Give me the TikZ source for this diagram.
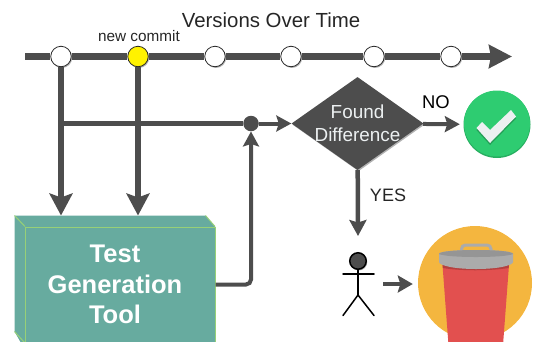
\documentclass[tikz,border=0pt]{standalone}
\usepackage{fontspec}
\setmainfont{Liberation Sans}
\usetikzlibrary{arrows.meta,shapes.geometric,shadows,calc}
\definecolor{ink}{HTML}{4D4D4D}
\definecolor{teal}{HTML}{67AB9F}
\definecolor{tealedge}{HTML}{97D077}
\definecolor{okgreen}{HTML}{2ECC71}
\definecolor{okdark}{HTML}{27AE60}
\definecolor{paleck}{HTML}{ECF0F1}
\definecolor{amber}{HTML}{F4B63F}
\definecolor{binred}{HTML}{E2504F}
\definecolor{lidgrey}{HTML}{ABABAB}
\definecolor{liddark}{HTML}{959595}
\tikzset{
  softshadow/.style={drop shadow={shadow xshift=1pt,shadow yshift=-1.2pt,fill=black,opacity=.3}},
  commit/.style={circle,draw=black!85,line width=.8pt,fill=white,minimum size=20.5pt,inner sep=0pt,softshadow},
  timeline/.style={draw=ink,line width=6.5pt},
  thick link/.style={draw=ink,line width=5.5pt,-{Stealth[length=22pt,width=23pt,inset=4pt]}},
  plain link/.style={draw=ink,line width=5pt},
  thin link/.style={draw=ink,line width=4pt,-{Stealth[length=15pt,width=16pt,inset=2.5pt]}},
  word/.style={inner sep=0pt,text=black},
  stick/.style={draw=black,line width=1.5pt,line cap=round},
}
\begin{document}
\begin{tikzpicture}[x=1pt,y=-1pt]
\useasboundingbox (0,0) rectangle (537,341);
\clip (0,0) rectangle (537,341);

% text
\node[word,text=black!85,font=\fontsize{20.4}{24}\selectfont] (title) at (271,20) {Versions Over Time};
\node[word,text=black!85,font=\fontsize{15.3}{18}\selectfont] (newc) at (139,36) {new commit};

% timeline
\coordinate (tstart) at (25,56.5);
\coordinate (tend) at (512,56.5);
\node[commit] (v1) at (61,56.5) {};
\node[commit,fill=yellow] (v2) at (138,56.5) {};
\node[commit] (v3) at (215,56.5) {};
\node[commit] (v4) at (291,56.5) {};
\node[commit] (v5) at (374,56.5) {};
\node[commit] (v6) at (451,56.5) {};
\draw[timeline] (tstart) -- (v1);
\draw[timeline] (v1) -- (v2);
\draw[timeline] (v2) -- (v3);
\draw[timeline] (v3) -- (v4);
\draw[timeline] (v4) -- (v5);
\draw[timeline] (v5) -- (v6);
\draw[draw=ink,line width=6.5pt,-{Stealth[length=23pt,width=23pt,inset=2pt]}] (v6) -- (tend);

% test generation tool
\node[draw=tealedge,line width=1pt,fill=teal,minimum width=190pt,minimum height=115pt,inner sep=0pt] (back) at (110,273.5) {};
\fill[teal] (back.north west) -- (back.north east) -- (215,226.5) -- (215,350) -- (25,350) -- (back.south west) -- cycle;
\draw[tealedge,line width=1pt] (back.north west) -- (25,226.5) (back.north east) -- (215,226.5) (back.south west) -- (25,343);
\node[draw=tealedge,line width=1pt,fill=teal,minimum width=190pt,minimum height=115pt,inner sep=0pt,
  label={[xshift=-5pt,inner sep=0pt,text=white,align=center,font=\fontsize{25.5}{30.7}\selectfont\bfseries]center:{Test\\Generation\\Tool}}] (tool) at (120,284.5) {};

% diamond, dot
\node[circle,fill=ink,minimum size=15.5pt,inner sep=0pt] (dot) at (251,123.5) {};
\node[diamond,fill=ink,minimum width=132pt,minimum height=93pt,inner sep=0pt,softshadow] (diff) at (357.5,123.5) {};
\node[inner sep=0pt,text=paleck,align=center,font=\fontsize{18.9}{23}\selectfont] (difft) at (diff.center) {Found\\Difference};

% check badge
\node[circle,fill=okdark,minimum size=67pt,inner sep=0pt] (ok) at (497,124.5) {};
\fill[okgreen] (497,123.5) circle (33);
\fill[okdark!90!black] (476.5,130) -- (482,124) -- (490,132) -- (511,112) -- (516,118.5) -- (490,145) -- cycle;
\fill[paleck] (476.5,128) -- (482,122) -- (490,130) -- (511,110) -- (516,116.5) -- (490,143) -- cycle;

% links
\draw[thick link] (v1) -- (v1 |- back.north);
\draw[thick link] (v2) -- (v2 |- back.north);
\coordinate (branch) at (v1 |- dot);
\draw[plain link] (branch) -- (dot);
\draw[thin link,rounded corners=5pt] (tool.east) -| (dot);
\draw[thin link] (dot) -- (diff);
\draw[thin link,shorten >=3.5pt] (diff) -- (ok);
\node[word,font=\fontsize{18.4}{22}\selectfont] (no) at (436,102) {NO};
\coordinate (personTop) at (358,236);
\draw[thin link,line width=4.5pt,-{Stealth[length=16pt,width=17pt,inset=2.5pt]}] (diff) -- (personTop);
\node[word,text=black!85,font=\fontsize{18}{22}\selectfont] (yes) at (388,195) {YES};

% person
\node[circle,draw=black,line width=1.5pt,fill=ink,minimum size=16.5pt,inner sep=0pt,softshadow] (head) at (358,261) {};
\coordinate (hip) at (358,295);
\draw[stick] (head) -- (hip);
\draw[stick] (343,274) -- (374,274);
\draw[stick] (343,315.5) -- (hip) -- (374,315.5);

% bin
\node[circle,fill=amber,minimum size=114pt,inner sep=0pt] (bin) at (475,283) {};
\fill[binred] (442.5,265) -- (509,265) -- (503,345) -- (448.5,345) -- cycle;
\fill[binred!80!black] (442.5,265) -- (509,265) -- (508.5,268) .. controls (490,271) and (460,271) .. (443,268) -- cycle;
\draw[lidgrey,line width=3pt,rounded corners=4pt] (461.5,254) -- (461.5,245) -- (491,245) -- (491,254);
\fill[lidgrey] (439,254) .. controls (439,251) and (460,250) .. (476,250) .. controls (492,250) and (513,251) .. (513,254) -- (513,262) .. controls (513,265) and (500,269) .. (476,269) .. controls (452,269) and (439,265) .. (439,262) -- cycle;
\fill[liddark] (439,254) .. controls (439,251) and (460,250) .. (476,250) .. controls (492,250) and (513,251) .. (513,254) .. controls (505,258) and (447,258) .. (439,254) -- cycle;

% person to bin
\coordinate (personRight) at (383,284);
\draw[thin link,line width=4.5pt,shorten >=5pt,-{Stealth[length=15pt,width=17pt,inset=2.5pt]}] (personRight) -- (bin.west |- personRight);
\end{tikzpicture}
\end{document}
